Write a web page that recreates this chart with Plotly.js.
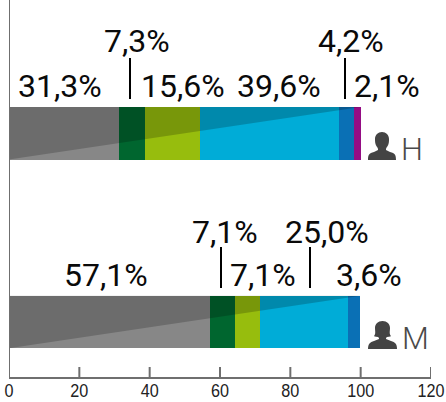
<!DOCTYPE html>
<html><head><meta charset="utf-8">
<script src="https://cdn.plot.ly/plotly-3.0.1.min.js"></script>
<style>html,body{margin:0;padding:0;background:#fff}</style></head>
<body><div id="c" style="width:446px;height:402px"></div>
<script>
const groups = ['M','H'];
const seriesH = [31.3,7.3,15.6,39.6,4.2,2.1];
const seriesM = [57.1,7.1,7.1,25.0,3.6,0];
const colors = ['#878787','#00662f','#97bd0d','#00acd7','#0a70b5','#940c84'];
const tickVals = [0,20,40,60,80,100,120];

const L=9,R=431,T=0,B=377;
const xr=[0,120];
const cH=133.25,cM=322,barPx=52.5;
const unitY=cM-cH;
const yr=[-(B-cM)/unitY,1+(cH-T)/unitY];
const px2x=p=>(p-L)/(R-L)*120;
const py2y=p=>yr[0]+(B-p)/(B-T)*(yr[1]-yr[0]);
const bw=barPx/unitY;

const traces=colors.map((c,i)=>({type:'bar',orientation:'h',y:[0,1],x:[seriesM[i],seriesH[i]],
  width:bw,marker:{color:c,line:{width:0}},hoverinfo:'skip'}));

const font={family:'Roboto,"Open Sans",sans-serif',size:32,color:'#0a0a0a',weight:400};
const labelsPx=[
 ['31,3%',60,86],['7,3%',137,41],['15,6%',183,86],['39,6%',279,86],['4,2%',351,41],['2,1%',387,86],
 ['57,1%',106,275],['7,1%',225,232],['7,1%',263,275],['25,0%',327,232],['3,6%',369,275]];
const ann=labelsPx.map(a=>({text:a[0],x:px2x(a[1]),y:py2y(a[2]),xref:'x',yref:'y',showarrow:false,font,xanchor:'center',yanchor:'middle'}));
[['H',412,149],['M',415,338]].forEach(a=>ann.push({text:a[0],x:px2x(a[1]),y:py2y(a[2]),xref:'x',yref:'y',showarrow:false,
  font:{family:'Roboto,sans-serif',size:31,color:'#4a4a4a',weight:300},xanchor:'center',yanchor:'middle'}));

const axisGray='#6f6f6f';
const shapes=[];
[0,1].forEach(g=>{
  shapes.push({type:'path',xref:'x',yref:'y',layer:'above',line:{width:0},fillcolor:'rgba(0,0,0,0.2)',
    path:`M0,${g-bw/2} L0,${g+bw/2} L100,${g+bw/2} Z`});
});
[[130,58,99],[345,58,99],[221,247,288],[310,247,288]].forEach(l=>{
  shapes.push({type:'line',xref:'x',yref:'y',x0:px2x(l[0]),x1:px2x(l[0]),y0:py2y(l[1]),y1:py2y(l[2]),line:{color:'#000',width:2}});
});
tickVals.forEach(v=>{
  shapes.push({type:'line',xref:'x',yref:'y',x0:v,x1:v,y0:py2y(379),y1:py2y(367),line:{color:axisGray,width:2}});
});
shapes.push({type:'line',xref:'x',yref:'y',x0:0,x1:0,y0:py2y(379),y1:py2y(0),line:{color:axisGray,width:2}});
function personH(){return 'M0,0 L28,0 C28,5 27,7 22,8 L18,10 C18,11 18,12 19,13 C21,16 21,18 21,21 C21,25 18,28 14,28 C10,28 7,25 7,21 C7,18 7,16 9,13 C10,12 10,11 10,10 L6,8 C1,7 0,5 0,0 Z';}
function personM(){return 'M0,0 L29,0 C29,5 27,7 23,8 L18,10 C18,11 18,11 19,12 C22,12 23,13 23,13 C21,15 22,18 22,21 C22,25 19,28 14.5,28 C10,28 7,25 7,21 C7,18 8,15 6,13 C6,13 7,12 10,12 C11,11 11,11 11,10 L6,8 C2,7 0,5 0,0 Z';}
shapes.push({type:'path',xsizemode:'pixel',ysizemode:'pixel',xanchor:px2x(368),yanchor:py2y(160),xref:'x',yref:'y',path:personH(),fillcolor:'#444',line:{width:0}});
shapes.push({type:'path',xsizemode:'pixel',ysizemode:'pixel',xanchor:px2x(368),yanchor:py2y(349),xref:'x',yref:'y',path:personM(),fillcolor:'#444',line:{width:0}});

const layout={width:446,height:402,margin:{l:L,r:446-R,t:T,b:402-B,pad:0},paper_bgcolor:'#fff',plot_bgcolor:'#fff',
  barmode:'stack',showlegend:false,
  xaxis:{range:xr,tickmode:'array',tickvals:tickVals,ticktext:tickVals.map(String),ticks:'',
    showgrid:false,zeroline:false,showline:true,linecolor:axisGray,linewidth:2,ticklabeloverflow:'allow',ticklabelstandoff:-4,
    tickfont:{family:'"Liberation Sans",sans-serif',size:18,color:'#222'}},
  yaxis:{type:'linear',range:yr,showticklabels:false,ticks:'',showgrid:false,zeroline:false,showline:false},
  annotations:ann,shapes};
Plotly.newPlot('c',traces,layout,{displayModeBar:false,staticPlot:true}).then(()=>{
  document.querySelectorAll('#c .xtick text').forEach(t=>{
    t.setAttribute('textLength',String(9*t.textContent.length));
    t.setAttribute('lengthAdjust','spacingAndGlyphs');
  });
});
</script></body></html>
